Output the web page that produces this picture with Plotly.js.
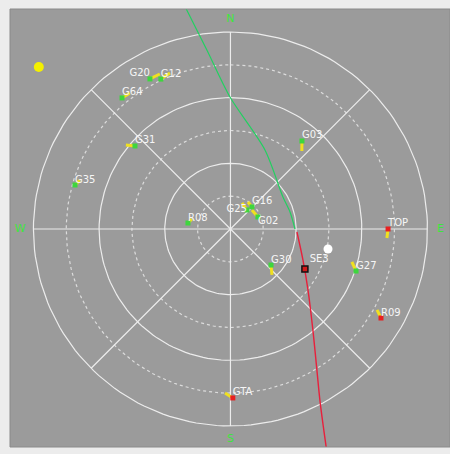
<!DOCTYPE html>
<html><head><meta charset="utf-8">
<script src="https://cdn.plot.ly/plotly-3.0.1.min.js"></script>
<style>html,body{margin:0;padding:0;background:#eeeeee;}#chart{width:450px;height:454px;}</style>
</head><body><div id="chart"></div>
<script>
// Satellite sky plot data (azimuth deg clockwise from North, elevation deg)
const satNames = ["G20","G12","G64","G31","G35","G03","R08","G25","G16","G02","G30","G27","TOP","R09","GTA"];
const satAz    = [331.8, 335.1, 320.4, 311.0, 285.8, 39.1, 278.0, 41.0, 44.3, 66.4, 131.6, 108.5, 90.0, 120.6, 179.2];
const satEl    = [12.2, 14.5, 12.3, 32.2, 16.2, 38.2, 70.4, 78.5, 75.9, 76.3, 65.2, 29.5, 18.0, 10.1, 12.8];
const tailAz   = [335.5, 338.8, 323.5, 308.8, 288.0, 42.5, 284.6, 23.9, 33.0, 48.5, 137.9, 105.2, 93.3, 118.9, 181.9];
const tailEl   = [12.2, 13.6, 12.7, 28.7, 17.7, 41.7, 71.8, 77.0, 75.3, 76.9, 61.7, 32.5, 18.4, 13.5, 15.0];
const satColor = ["#3ed63e","#3ed63e","#3ed63e","#3ed63e","#3ed63e","#3ed63e","#3ed63e","#3ed63e","#3ed63e","#3ed63e","#3ed63e","#3ed63e","#e82020","#e82020","#e82020"];
const satLabelPos = ["top left","top right","top right","top right","top right","top right","top right","middle left","top right","bottom right","top right","top right","top right","top right","top right"];

// Object pass trajectory
const pathAzGreen = [348.0, 352.5, 359.8, 23.6, 58.6, 74.1, 90.0];
const pathElGreen = [-16.9, 7.5, 29.7, 50.6, 61.9, 61.7, 60.5];
const pathAzRed   = [92.6, 113.1, 128.2, 140.8, 148.5, 152.4, 155.1, 157.1];
const pathElRed   = [59.6, 54.0, 44.9, 30.4, 14.4, 1.8, -11.3, -24.5];
const objName = "SE3", objAz = 118.2, objEl = 51.4;

// Sun and moon
const sunAz = 310.2, sunEl = -24.6;
const moonAz = 101.6, moonEl = 44.5;

// Grid
const solidEls = [0, 30, 60];
const dottedEls = [15, 45, 75];
const spokeAz = [0, 45, 90, 135, 180, 225, 270, 315];
const dirLabels = ["N","E","S","W"];
const dirAz = [0, 90, 180, 270];

function xy(az, el){ const z = 90 - el, a = az*Math.PI/180; return [z*Math.sin(a), z*Math.cos(a)]; }
function xs(azs, els){ return azs.map((a,i)=>xy(a,els[i])[0]); }
function ys(azs, els){ return azs.map((a,i)=>xy(a,els[i])[1]); }

const traces = [];
const gridCol = "#ececec";
function circle(el, dash, color, width){
  const az=[], e=[];
  for(let t=0;t<=360;t+=2){az.push(t);e.push(el);}
  traces.push({type:"scatter",mode:"lines",x:xs(az,e),y:ys(az,e),line:{color:color,width:width,dash:dash},hoverinfo:"skip"});
}
solidEls.forEach(e=>circle(e,"solid",gridCol,1.2));
dottedEls.forEach(e=>circle(e,"dot","#dcdcdc",1.2));
spokeAz.forEach(a=>{
  traces.push({type:"scatter",mode:"lines",x:xs([a,a],[90,0]),y:ys([a,a],[90,0]),line:{color:gridCol,width:1.2},hoverinfo:"skip"});
});

// direction labels
const dirEl = -6;
traces.push({type:"scatter",mode:"text",x:xs(dirAz,dirAz.map(()=>dirEl)),y:ys(dirAz,dirAz.map(()=>dirEl)),
  text:dirLabels,textfont:{family:"DejaVu Sans",size:11,color:"#3ee63e"},textposition:"middle center",hoverinfo:"skip"});

// trajectory
traces.push({type:"scatter",mode:"lines",x:xs(pathAzGreen,pathElGreen),y:ys(pathAzGreen,pathElGreen),line:{color:"#22d060",width:1.2,shape:"spline",smoothing:0.8},hoverinfo:"skip"});
traces.push({type:"scatter",mode:"lines",x:xs(pathAzRed,pathElRed),y:ys(pathAzRed,pathElRed),line:{color:"#e8203c",width:1.4,shape:"spline"},hoverinfo:"skip"});

// satellite tails
satNames.forEach((n,i)=>{
  traces.push({type:"scatter",mode:"lines",x:xs([tailAz[i],satAz[i]],[tailEl[i],satEl[i]]),y:ys([tailAz[i],satAz[i]],[tailEl[i],satEl[i]]),
    line:{color:"#f0e020",width:3},hoverinfo:"skip"});
});
traces.push({type:"scatter",mode:"markers",x:xs(satAz,satEl),y:ys(satAz,satEl),marker:{color:satColor,size:5,symbol:"square"},hoverinfo:"skip"});
traces.push({type:"scatter",mode:"text",x:xs(satAz,satEl),y:ys(satAz,satEl),text:satNames,textposition:satLabelPos,
  textfont:{family:"DejaVu Sans",size:10,color:"#f6f6f6"},hoverinfo:"skip"});

// object marker
traces.push({type:"scatter",mode:"markers+text",x:[xy(objAz,objEl)[0]],y:[xy(objAz,objEl)[1]],text:[objName],textposition:"top right",
  textfont:{family:"DejaVu Sans",size:10,color:"#f6f6f6"},marker:{color:"#d01818",size:6,symbol:"square",line:{color:"#111",width:1.5}},hoverinfo:"skip"});

// sun & moon
traces.push({type:"scatter",mode:"markers",x:[xy(sunAz,sunEl)[0]],y:[xy(sunAz,sunEl)[1]],marker:{color:"#f4f000",size:10},hoverinfo:"skip"});
traces.push({type:"scatter",mode:"markers",x:[xy(moonAz,moonEl)[0]],y:[xy(moonAz,moonEl)[1]],marker:{color:"#ffffff",size:9},hoverinfo:"skip"});

const layout = {
  width:450, height:454,
  margin:{l:10,r:0,t:9,b:7},
  paper_bgcolor:"#ececec", plot_bgcolor:"#9b9b9b",
  showlegend:false,
  xaxis:{range:[-100.7,100.3],visible:false,fixedrange:true},
  yaxis:{range:[-99.6,100.5],visible:false,fixedrange:true},
  shapes:[{type:"rect",xref:"paper",yref:"paper",x0:0,x1:1,y0:0,y1:1,line:{color:"#8a8a8a",width:1}}]
};
Plotly.newPlot("chart",traces,layout,{displayModeBar:false,staticPlot:true});
</script></body></html>
